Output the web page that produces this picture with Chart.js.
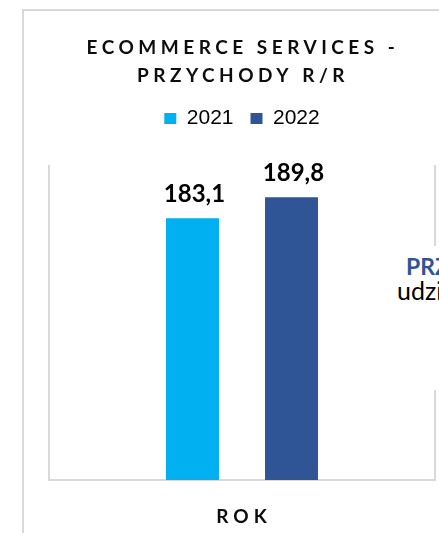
<!DOCTYPE html>
<html>
<head>
<meta charset="utf-8">
<script src="https://cdn.jsdelivr.net/npm/chart.js@4/dist/chart.umd.min.js"></script>
<style>
  html, body { margin: 0; padding: 0; background: #fff; overflow: hidden; }
  #wrap { position: relative; width: 439px; height: 533px; overflow: hidden; }
  #frame { position: absolute; left: 22px; top: 9px; width: 600px; height: 700px; border: 2px solid #d9d9d9; box-sizing: border-box; }
  #chart { position: absolute; left: 0; top: 0; }
  #side { position: absolute; left: 392px; top: 246px; width: 47px; height: 144px; background: #fff; overflow: hidden; font-family: Lato, sans-serif; white-space: nowrap; }
  #side .head { position: absolute; left: 14px; top: 6px; font-weight: bold; font-size: 23px; color: #2f5597; }
  #side .sub { position: absolute; left: 5px; top: 29px; font-size: 25px; color: #000; }
</style>
</head>
<body>
<div id="wrap">
  <div id="frame"></div>
  <canvas id="chart" width="439" height="533"></canvas>
  <div id="side"><span class="head">PRZYCHODY</span><span class="sub">udział</span></div>
</div>
<script>
// data
const categories = ['ROK'];
const seriesNames = ['2021', '2022'];
const values2021 = [183.1];
const values2022 = [189.8];
const seriesColors = ['#00b0f0', '#2f5597'];
const yRange = [100, 200];
const titleLines = ['ECOMMERCE SERVICES -', 'PRZYCHODY R/R'];
const axisTitle = 'ROK';

const plotTop = 165;
const padTop = 91;

// legend gets a fixed height so the plot starts where it should
const legendGap = {
    id: 'legendGap',
    afterInit(chart) {
        const fit = chart.legend.fit;
        chart.legend.fit = function () {
            fit.call(this);
            this.height = plotTop - padTop;
        };
    }
};

// plot frame: left, right and bottom only
const plotFrame = {
    id: 'plotFrame',
    beforeDatasetsDraw(chart) {
        const { ctx, chartArea: a } = chart;
        ctx.save();
        ctx.strokeStyle = '#d9d9d9';
        ctx.lineWidth = 2;
        ctx.beginPath();
        ctx.moveTo(a.left, a.top);
        ctx.lineTo(a.left, a.bottom);
        ctx.lineTo(a.right, a.bottom);
        ctx.lineTo(a.right, a.top);
        ctx.stroke();
        ctx.restore();
    }
};

const valueLabels = {
    id: 'valueLabels',
    afterDatasetsDraw(chart) {
        const ctx = chart.ctx;
        ctx.save();
        ctx.font = 'bold 24px Lato';
        ctx.fillStyle = '#000';
        ctx.textAlign = 'center';
        ctx.textBaseline = 'alphabetic';
        chart.data.datasets.forEach((ds, i) => {
            chart.getDatasetMeta(i).data.forEach((bar, j) => {
                const txt = ds.data[j].toFixed(1).replace('.', ',');
                ctx.fillText(txt, bar.x + 2, bar.y - 16);
            });
        });
        ctx.restore();
    }
};

// spaced caps text for the title and the axis name
const spacedText = {
    id: 'spacedText',
    afterDraw(chart) {
        const { ctx, chartArea: a } = chart;
        const cx = (a.left + a.right) / 2;
        ctx.save();
        ctx.fillStyle = '#0d0d0d';
        ctx.textAlign = 'center';
        ctx.font = 'bold 19px Lato';
        ctx.letterSpacing = '4.5px';
        ctx.fillText(titleLines[0], cx + 1, 48);
        ctx.fillText(titleLines[1], cx + 1, 76);
        ctx.font = 'bold 19px Lato';
        ctx.letterSpacing = '5px';
        ctx.fillText(axisTitle, cx + 2, 517);
        ctx.restore();
    }
};

const ctx = document.getElementById('chart').getContext('2d');
const chart = new Chart(ctx, {
    type: 'bar',
    data: {
        labels: categories,
        datasets: [{
            label: seriesNames[0],
            data: values2021,
            backgroundColor: seriesColors[0]
        }, {
            label: seriesNames[1],
            data: values2022,
            backgroundColor: seriesColors[1]
        }]
    },
    options: {
        responsive: false,
        animation: false,
        layout: {
            padding: { left: 49, right: 4, top: padTop, bottom: 53 }
        },
        datasets: {
            bar: {
                barPercentage: 0.535,
                categoryPercentage: 0.513
            }
        },
        scales: {
            x: { display: false },
            y: { display: false, min: yRange[0], max: yRange[1] }
        },
        plugins: {
            legend: {
                position: 'top',
                labels: {
                    boxWidth: 12,
                    boxHeight: 11,
                    padding: 17,
                    color: '#000',
                    font: { family: 'Liberation Sans', size: 21 }
                }
            },
            tooltip: { enabled: false }
        }
    },
    plugins: [legendGap, plotFrame, valueLabels, spacedText]
});
</script>
</body>
</html>
